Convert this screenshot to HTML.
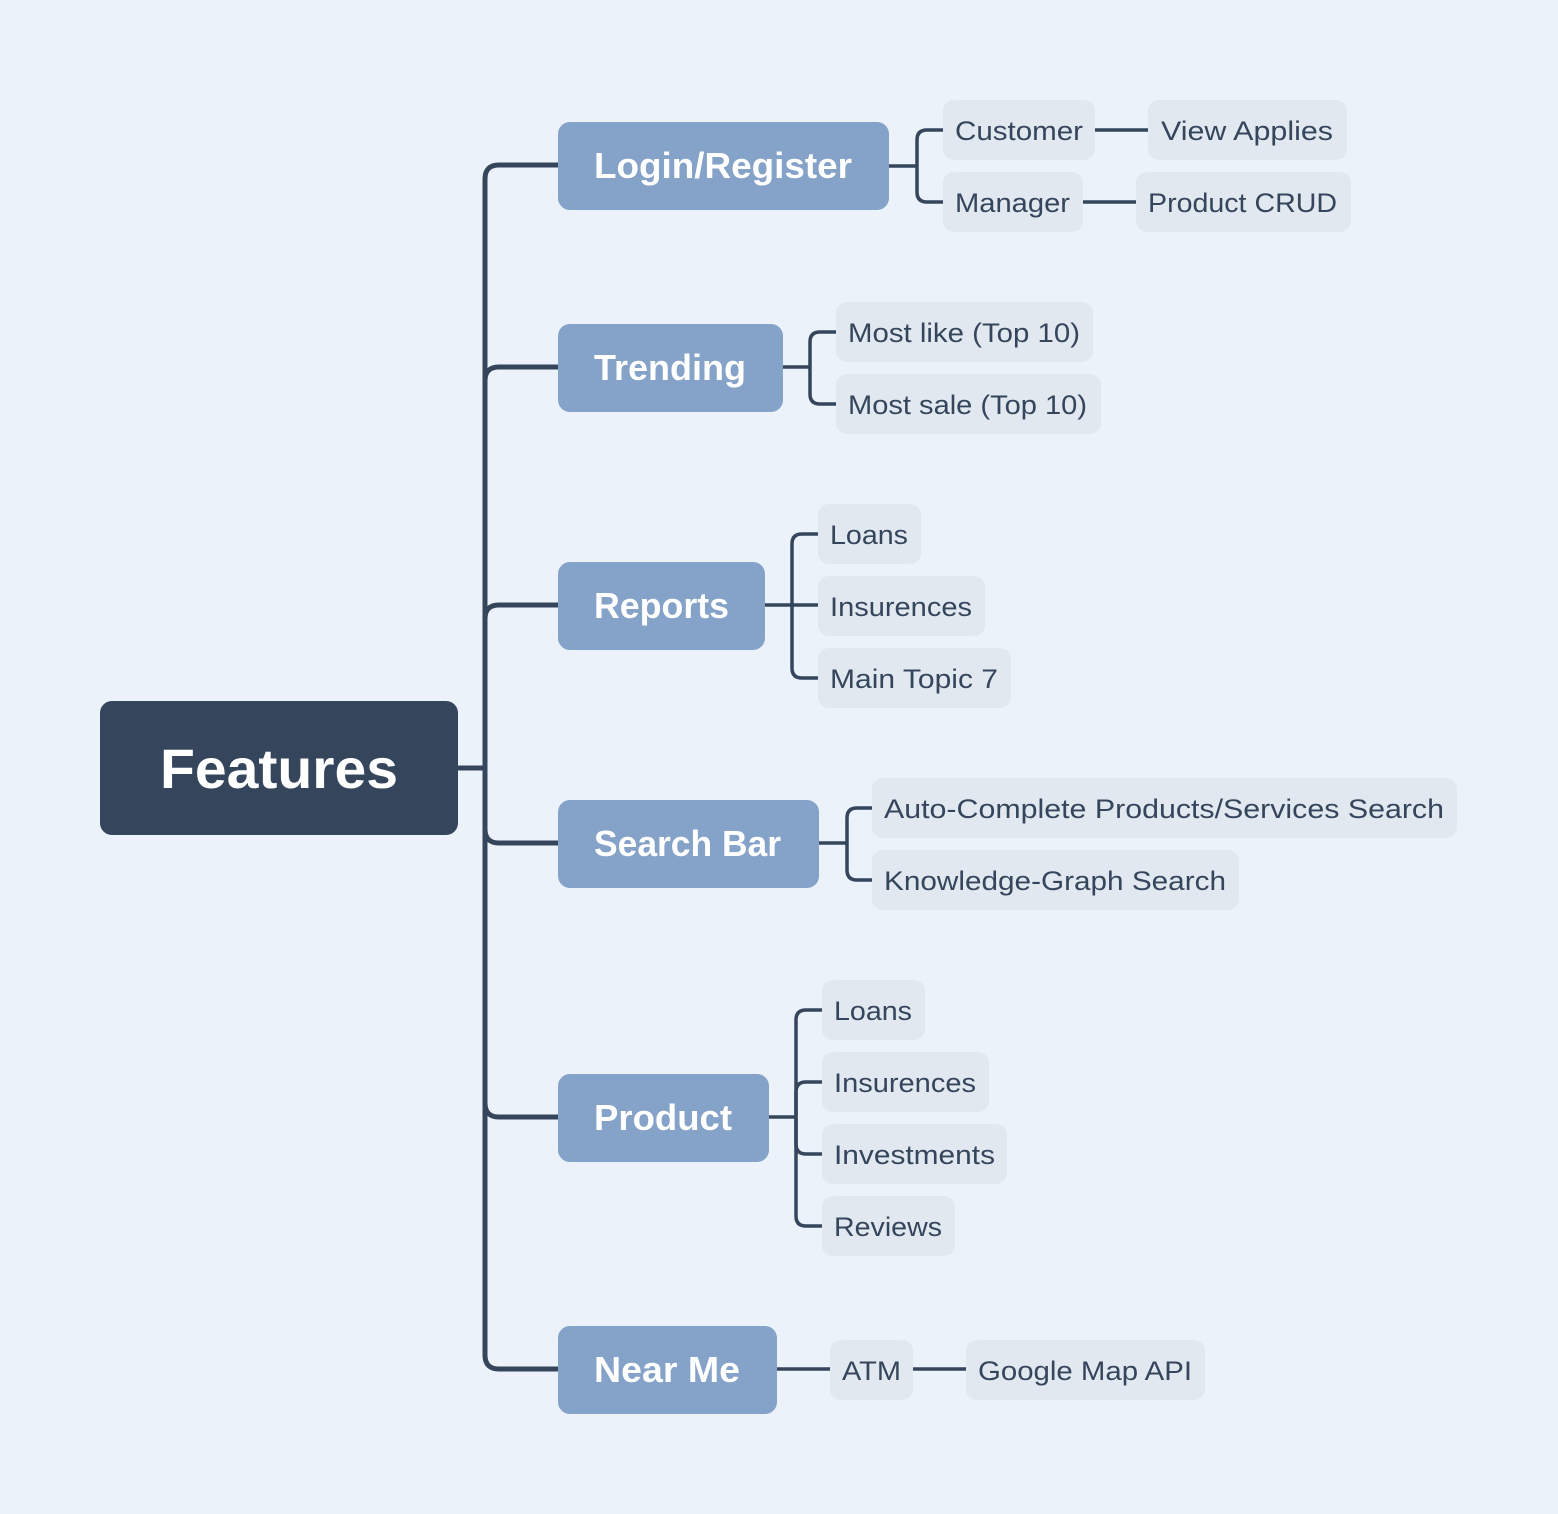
<!DOCTYPE html>
<html><head><meta charset="utf-8"><style>
html,body{margin:0;padding:0;background:#ECF2F9;}
svg{display:block}
text{font-family:"Liberation Sans",sans-serif}
.m{fill:#fff;font-weight:bold;font-size:36px}
.s{fill:#35455C;font-size:27px}
.mb{fill:#85A2C8}
.sb{fill:#E1E8F0}
</style></head><body>
<svg width="1558" height="1514" viewBox="0 0 1558 1514" xmlns="http://www.w3.org/2000/svg">
<rect width="1558" height="1514" fill="#ECF2F9"/>
<g fill="none" stroke="#35455C" stroke-width="5">
<path d="M457 768 H485"/>
<path d="M485 768 V179 Q485 165 499 165 H558"/>
<path d="M485 768 V381 Q485 367 499 367 H558"/>
<path d="M485 768 V619 Q485 605 499 605 H558"/>
<path d="M485 768 V829 Q485 843 499 843 H558"/>
<path d="M485 768 V1103 Q485 1117 499 1117 H558"/>
<path d="M485 768 V1355 Q485 1369 499 1369 H558"/>
</g>
<g fill="none" stroke="#35455C" stroke-width="3.5">
<path d="M889 166 H917"/>
<path d="M917 166 V140 Q917 130 927 130 H943"/>
<path d="M917 166 V192 Q917 202 927 202 H943"/>
<path d="M1095 130 H1148"/>
<path d="M1083 202 H1136"/>
<path d="M783 367 H810"/>
<path d="M810 367 V342 Q810 332 820 332 H836"/>
<path d="M810 367 V394 Q810 404 820 404 H836"/>
<path d="M765 605 H818"/>
<path d="M792 605 V544 Q792 534 802 534 H818"/>
<path d="M792 605 V668 Q792 678 802 678 H818"/>
<path d="M819 843 H847"/>
<path d="M847 843 V818 Q847 808 857 808 H872"/>
<path d="M847 843 V870 Q847 880 857 880 H872"/>
<path d="M769 1117 H796"/>
<path d="M796 1117 V1020 Q796 1010 806 1010 H822"/>
<path d="M796 1117 V1092 Q796 1082 806 1082 H822"/>
<path d="M796 1117 V1144 Q796 1154 806 1154 H822"/>
<path d="M796 1117 V1216 Q796 1226 806 1226 H822"/>
<path d="M777 1369 H830"/>
<path d="M913 1369 H966"/>
</g>
<rect x="100" y="701" width="358" height="134" rx="12" fill="#35455C"/>
<text x="160" y="788" font-size="56" font-weight="bold" fill="#fff" textLength="238" lengthAdjust="spacingAndGlyphs">Features</text>

<rect class="mb" x="558" y="122" width="331" height="88" rx="12"/>
<text class="m" x="594" y="178" textLength="258" lengthAdjust="spacingAndGlyphs">Login/Register</text>
<rect class="mb" x="558" y="324" width="225" height="88" rx="12"/>
<text class="m" x="594" y="380" textLength="152" lengthAdjust="spacingAndGlyphs">Trending</text>
<rect class="mb" x="558" y="562" width="207" height="88" rx="12"/>
<text class="m" x="594" y="618" textLength="135" lengthAdjust="spacingAndGlyphs">Reports</text>
<rect class="mb" x="558" y="800" width="261" height="88" rx="12"/>
<text class="m" x="594" y="856" textLength="187" lengthAdjust="spacingAndGlyphs">Search Bar</text>
<rect class="mb" x="558" y="1074" width="211" height="88" rx="12"/>
<text class="m" x="594" y="1130" textLength="138" lengthAdjust="spacingAndGlyphs">Product</text>
<rect class="mb" x="558" y="1326" width="219" height="88" rx="12"/>
<text class="m" x="594" y="1382" textLength="146" lengthAdjust="spacingAndGlyphs">Near Me</text>

<rect class="sb" x="943" y="100" width="152" height="60" rx="11"/>
<text class="s" x="955" y="140" textLength="128" lengthAdjust="spacingAndGlyphs">Customer</text>
<rect class="sb" x="1148" y="100" width="199" height="60" rx="11"/>
<text class="s" x="1161" y="140" textLength="172" lengthAdjust="spacingAndGlyphs">View Applies</text>
<rect class="sb" x="943" y="172" width="140" height="60" rx="11"/>
<text class="s" x="955" y="212" textLength="115" lengthAdjust="spacingAndGlyphs">Manager</text>
<rect class="sb" x="1136" y="172" width="215" height="60" rx="11"/>
<text class="s" x="1148" y="212" textLength="189" lengthAdjust="spacingAndGlyphs">Product CRUD</text>

<rect class="sb" x="836" y="302" width="257" height="60" rx="11"/>
<text class="s" x="848" y="342" textLength="232" lengthAdjust="spacingAndGlyphs">Most like (Top 10)</text>
<rect class="sb" x="836" y="374" width="265" height="60" rx="11"/>
<text class="s" x="848" y="414" textLength="239" lengthAdjust="spacingAndGlyphs">Most sale (Top 10)</text>

<rect class="sb" x="818" y="504" width="103" height="60" rx="11"/>
<text class="s" x="830" y="544" textLength="78" lengthAdjust="spacingAndGlyphs">Loans</text>
<rect class="sb" x="818" y="576" width="167" height="60" rx="11"/>
<text class="s" x="830" y="616" textLength="142" lengthAdjust="spacingAndGlyphs">Insurences</text>
<rect class="sb" x="818" y="648" width="193" height="60" rx="11"/>
<text class="s" x="830" y="688" textLength="168" lengthAdjust="spacingAndGlyphs">Main Topic 7</text>

<rect class="sb" x="872" y="778" width="585" height="60" rx="11"/>
<text class="s" x="884" y="818" textLength="560" lengthAdjust="spacingAndGlyphs">Auto-Complete Products/Services Search</text>
<rect class="sb" x="872" y="850" width="367" height="60" rx="11"/>
<text class="s" x="884" y="890" textLength="342" lengthAdjust="spacingAndGlyphs">Knowledge-Graph Search</text>

<rect class="sb" x="822" y="980" width="103" height="60" rx="11"/>
<text class="s" x="834" y="1020" textLength="78" lengthAdjust="spacingAndGlyphs">Loans</text>
<rect class="sb" x="822" y="1052" width="167" height="60" rx="11"/>
<text class="s" x="834" y="1092" textLength="142" lengthAdjust="spacingAndGlyphs">Insurences</text>
<rect class="sb" x="822" y="1124" width="185" height="60" rx="11"/>
<text class="s" x="834" y="1164" textLength="161" lengthAdjust="spacingAndGlyphs">Investments</text>
<rect class="sb" x="822" y="1196" width="133" height="60" rx="11"/>
<text class="s" x="834" y="1236" textLength="108" lengthAdjust="spacingAndGlyphs">Reviews</text>

<rect class="sb" x="830" y="1340" width="83" height="60" rx="11"/>
<text class="s" x="842" y="1380" textLength="59" lengthAdjust="spacingAndGlyphs">ATM</text>
<rect class="sb" x="966" y="1340" width="239" height="60" rx="11"/>
<text class="s" x="978" y="1380" textLength="214" lengthAdjust="spacingAndGlyphs">Google Map API</text>
</svg>
</body></html>
